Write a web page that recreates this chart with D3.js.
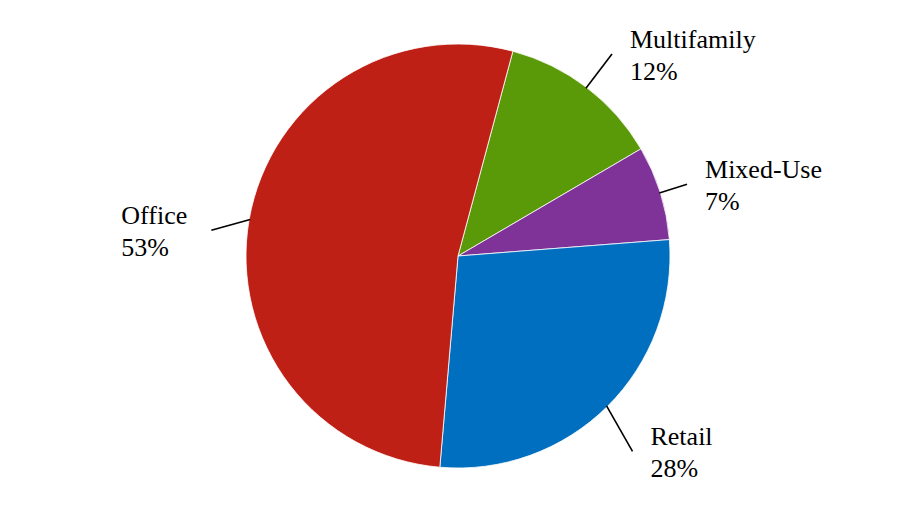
<!DOCTYPE html>
<html>
<head>
<meta charset="utf-8">
<script src="https://cdn.jsdelivr.net/npm/d3@7"></script>
<style>
  html, body { margin: 0; padding: 0; background: #fff; }
  text { font-family: "Liberation Serif", "Times New Roman", serif; }
</style>
</head>
<body>
<div id="chart"></div>
<script>
// data (shares; labels show them rounded)
const categories = ["Multifamily", "Mixed-Use", "Retail", "Office"];
const shares = [12.4, 7.2, 27.6, 52.8];
const colors = ["#5A9A08", "#7F3399", "#006FBF", "#BE2016"];

// leader line layout: outer radius of the line end and a small angle tweak (deg)
const leaderR = [254, 240, 262, 248];
const leaderTweak = [0, 0, 3, -4];

let w = 914, h = 512,
  cx = 458, cy = 256,
  radius = 212,
  startDeg = 15,
  fontSize = 26,
  lineH = 31.5;

let svg = d3.select("#chart").append("svg")
  .attr("width", w)
  .attr("height", h);

let g = svg.append("g")
  .attr("transform", "translate(" + cx + "," + cy + ")");

let pie = d3.pie()
  .sort(null)
  .value(function (d) { return d; })
  .startAngle(startDeg * Math.PI / 180)
  .endAngle(startDeg * Math.PI / 180 + Math.PI * 2);

let arc = d3.arc().innerRadius(0).outerRadius(radius);
let arcs = pie(shares);

//slices
g.selectAll(".slice")
  .data(arcs)
  .enter()
  .append("path")
  .attr("class", "slice")
  .attr("d", arc)
  .style("fill", function (d, i) { return colors[i]; })
  .style("stroke", "#ffffff")
  .style("stroke-width", "0.8px");

//point on a circle at angle a (radians, clockwise from 12 o'clock)
function polar(r, a) {
  return [r * Math.sin(a), -r * Math.cos(a)];
}

let labels = g.selectAll(".lbl")
  .data(arcs)
  .enter()
  .append("g")
  .attr("class", "lbl");

labels.append("line")
  .each(function (d, i) {
    let mid = (d.startAngle + d.endAngle) / 2;
    let p0 = polar(radius - 1, mid);
    let p1 = polar(leaderR[i], mid + leaderTweak[i] * Math.PI / 180);
    d3.select(this)
      .attr("x1", p0[0]).attr("y1", p0[1])
      .attr("x2", p1[0]).attr("y2", p1[1]);
  })
  .style("stroke", "#000")
  .style("stroke-width", "1.6px");

labels.append("text")
  .style("font-size", fontSize + "px")
  .style("fill", "#000")
  .each(function (d, i) {
    let mid = (d.startAngle + d.endAngle) / 2;
    let p1 = polar(leaderR[i], mid + leaderTweak[i] * Math.PI / 180);
    let left = p1[0] < 0;
    let t = d3.select(this);
    // left-hand labels sit before the line end, right-hand ones after it
    let x = left ? p1[0] - 90 : p1[0] + 18;
    let y = p1[1] - 6;
    t.append("tspan").attr("x", x).attr("y", y).text(categories[i]);
    t.append("tspan").attr("x", x).attr("y", y + lineH).text(d3.format(".0f")(shares[i]) + "%");
  });
</script>
</body>
</html>
